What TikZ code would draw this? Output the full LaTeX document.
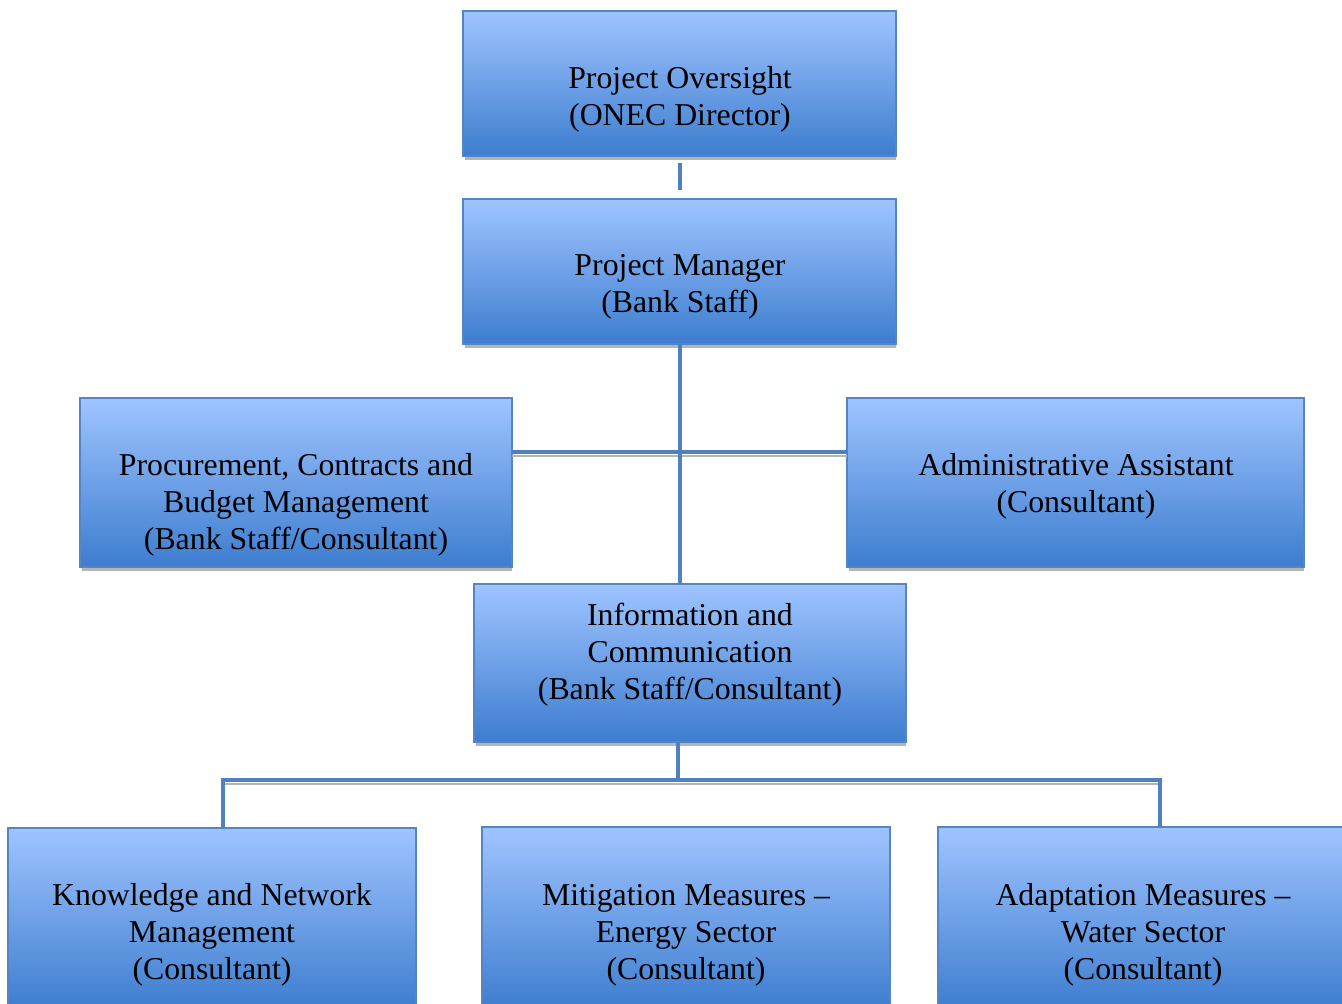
\documentclass[tikz,border=0pt]{standalone}
\usepackage{fontspec}
\setmainfont{Liberation Serif}
\definecolor{boxtop}{HTML}{9FC4FF}
\definecolor{boxbot}{HTML}{3D7DCF}
\definecolor{boxline}{HTML}{5585C2}
\definecolor{connc}{HTML}{4F81BD}
\definecolor{shadowc}{HTML}{B4B4B4}
\begin{document}
\begin{tikzpicture}[x=1pt,y=-1pt,
  orgbox/.style={rectangle,inner sep=0pt,outer sep=0pt,draw=boxline,line width=1.5pt,top color=boxtop,bottom color=boxbot},
  boxtext/.style={align=center,inner sep=0pt,font=\fontsize{31.8}{37}\selectfont},
  conn/.style={draw=connc,line width=4pt},
  shad/.style={fill=shadowc,draw=none},
  lshad/.style={draw=shadowc,line width=2.5pt}]
\useasboundingbox (0,0) rectangle (1342,1004);
\begin{scope}
\clip (0,0) rectangle (1342,1004);
% shadows
\fill[shad] (465,156) rectangle (896,160);
\fill[shad] (465,344) rectangle (896,348);
\fill[shad] (82,567) rectangle (512,571);
\fill[shad] (849,567) rectangle (1304,571);
\fill[shad] (476,742) rectangle (906,746);
% boxes
\node[orgbox,minimum width=433pt,minimum height=145pt] (ov) at (679.5,83.5) {};
\node[orgbox,minimum width=433pt,minimum height=145pt] (man) at (679.5,271.5) {};
\node[orgbox,minimum width=432pt,minimum height=169pt] (proc) at (296,482.5) {};
\node[orgbox,minimum width=457pt,minimum height=169pt] (adm) at (1075.5,482.5) {};
\node[orgbox,minimum width=432pt,minimum height=158pt] (info) at (690,663) {};
\node[orgbox,minimum width=408pt,minimum height=182pt] (kn) at (212,919) {};
\node[orgbox,minimum width=408pt,minimum height=183pt] (mit) at (686,918.5) {};
\node[orgbox,minimum width=408pt,minimum height=183pt] (ad) at (1142,918.5) {};
% texts
\node[boxtext] (tov) at (680,99) {Project Oversight\\(ONEC Director)};
\node[boxtext] (tman) at (680,287) {Project Manager\\(Bank Staff)};
\node[boxtext] (tproc) at (296,505) {Procurement, Contracts and\\Budget Management\\(Bank Staff/Consultant)};
\node[boxtext] (tadm) at (1076,486) {Administrative Assistant\\(Consultant)};
\node[boxtext] (tinfo) at (690,655) {Information and\\Communication\\(Bank Staff/Consultant)};
\node[boxtext] (tkn) at (212,935) {Knowledge and Network\\Management\\(Consultant)};
\node[boxtext] (tmit) at (686,935) {Mitigation Measures --\\Energy Sector\\(Consultant)};
\node[boxtext] (tad) at (1143,935) {Adaptation Measures --\\Water Sector\\(Consultant)};
% connector coordinates
\coordinate (hb) at (678,780);
\coordinate (hl) at (223,780);
\coordinate (hr) at (1160,780);
% connector shadows
\draw[lshad] ([yshift=-4pt]proc.east |- 0,452) -- ([yshift=-4pt]adm.west |- 0,452);
\draw[lshad] ([yshift=-4pt,xshift=2pt]hl) -- ([yshift=-4pt]hr);
% connectors
\draw[conn] ([yshift=-7pt]ov.south) -- ([yshift=9pt]man.north);
\draw[conn] (man.south) -- (man.south |- info.north);
\draw[conn] (proc.east |- 0,452) -- (adm.west |- 0,452);
\draw[conn] (info.south -| hb) -- (hb);
\draw[conn] (hl |- kn.north) -- (hl) -- (hr) -- (hr |- ad.north);
\end{scope}
\end{tikzpicture}
\end{document}
